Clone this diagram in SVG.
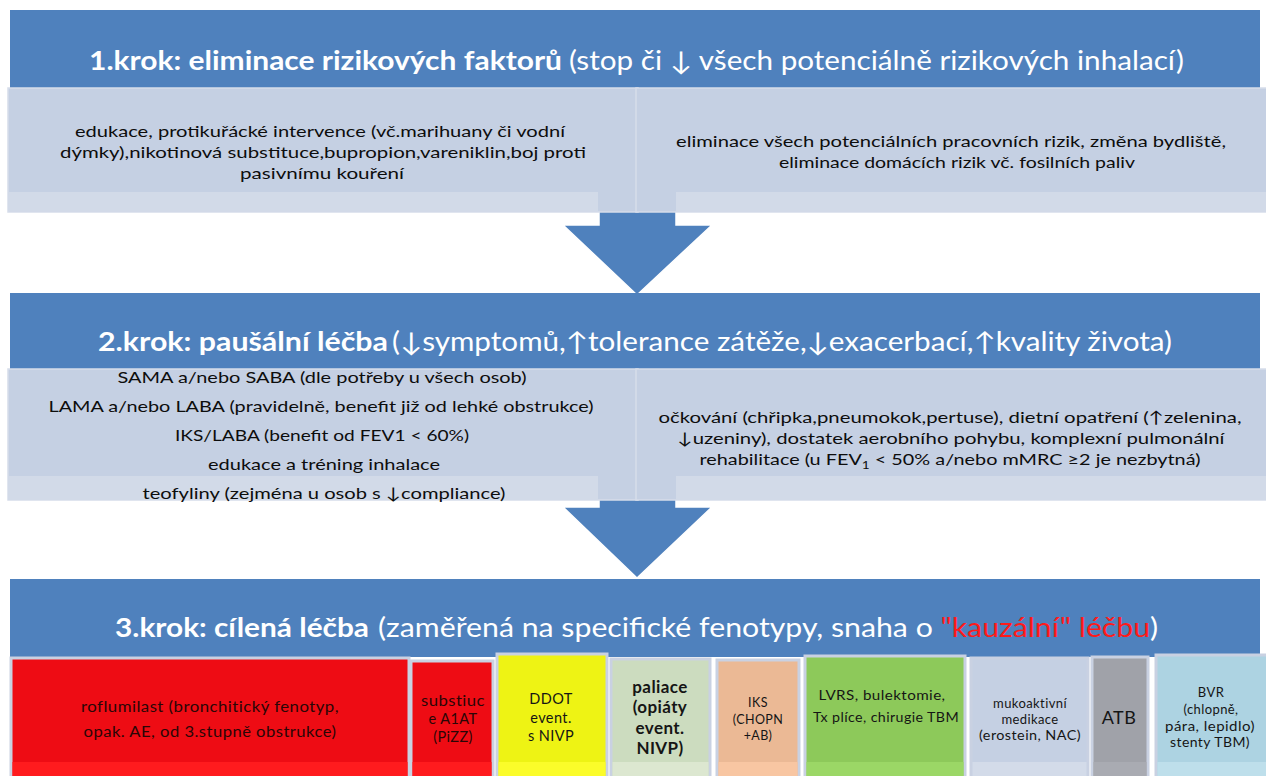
<svg xmlns="http://www.w3.org/2000/svg" width="1266" height="776" viewBox="0 0 1266 776">
<style>
text{font-family:Lato,"Open Sans","DejaVu Sans",sans-serif;}
.hdr{fill:#4F81BD;}
.ttl{fill:#FFFFFF;font-size:26px;}
.b{font-weight:bold;}
.sub{fill:#C5D0E3;stroke:#D6DDEA;stroke-width:1.5;}
.strip{fill:#D2DAE8;}
.body{fill:#0d0d0d;font-size:16px;text-anchor:middle;}
.arrow{fill:#4F81BD;stroke:#FFFFFF;stroke-width:1.5;stroke-linejoin:miter;}
.cell{stroke:#C9D1E2;stroke-width:3;}
.ct{fill:#151515;text-anchor:middle;letter-spacing:0.4px;}
.rt{fill:#2a0606;}
</style>
<rect width="1266" height="776" fill="#FFFFFF"/>

<g id="connectors">
  <polygon class="arrow" points="599,200 676,200 676,225 712,225 637,295 563,225 599,225"/>
  <polygon class="arrow" points="599,490 676,490 676,507 712,507 637,578 563,507 599,507"/>
</g>

<g id="step1-header">
  <rect class="hdr" x="10" y="10" width="1250" height="79"/>
  <text class="ttl b" x="89" y="70" textLength="473" lengthAdjust="spacingAndGlyphs">1.krok: eliminace rizikových faktorů</text>
  <text class="ttl" x="569" y="70" textLength="615" lengthAdjust="spacingAndGlyphs">(stop či ↓ všech potenciálně rizikových inhalací)</text>
</g>

<g id="step1-left">
  <rect class="sub" x="8" y="88" width="630" height="124"/>
  <rect class="strip" x="8" y="192" width="590" height="19"/>
  <text class="body" x="320" y="137" textLength="490" lengthAdjust="spacingAndGlyphs">edukace, protikuřácké intervence (vč.marihuany či vodní</text>
  <text class="body" x="323" y="158" textLength="526" lengthAdjust="spacingAndGlyphs">dýmky),nikotinová substituce,bupropion,vareniklin,boj proti</text>
  <text class="body" x="322" y="179" textLength="164" lengthAdjust="spacingAndGlyphs">pasivnímu kouření</text>
</g>

<g id="step1-right">
  <rect class="sub" x="636" y="88" width="632" height="124"/>
  <rect class="strip" x="676" y="192" width="592" height="19"/>
  <text class="body" x="951" y="147" textLength="550" lengthAdjust="spacingAndGlyphs">eliminace všech potenciálních pracovních rizik, změna bydliště,</text>
  <text class="body" x="957" y="168" textLength="356" lengthAdjust="spacingAndGlyphs">eliminace domácích rizik vč. fosilních paliv</text>
</g>

<g id="step2-header">
  <rect class="hdr" x="10" y="293" width="1250" height="77"/>
  <text class="ttl b" x="98" y="351" textLength="290" lengthAdjust="spacingAndGlyphs">2.krok: paušální  léčba</text>
  <text class="ttl" x="392" y="351" textLength="780" lengthAdjust="spacingAndGlyphs">(↓symptomů,↑tolerance zátěže,↓exacerbací,↑kvality života)</text>
</g>

<g id="step2-left">
  <rect class="sub" x="8" y="369" width="630" height="131"/>
  <rect class="strip" x="8" y="476" width="590" height="24"/>
  <text class="body" x="322" y="383" textLength="409" lengthAdjust="spacingAndGlyphs">SAMA a/nebo SABA (dle potřeby u všech osob)</text>
  <text class="body" x="321" y="412" textLength="545" lengthAdjust="spacingAndGlyphs">LAMA a/nebo LABA (pravidelně, benefit již od lehké obstrukce)</text>
  <text class="body" x="322" y="441" textLength="294" lengthAdjust="spacingAndGlyphs">IKS/LABA (benefit od FEV1 &lt; 60%)</text>
  <text class="body" x="324" y="470" textLength="232" lengthAdjust="spacingAndGlyphs">edukace a tréning inhalace</text>
  <text class="body" x="324" y="499" textLength="363" lengthAdjust="spacingAndGlyphs">teofyliny (zejména u osob s ↓compliance)</text>
</g>

<g id="step2-right">
  <rect class="sub" x="636" y="369" width="632" height="131"/>
  <rect class="strip" x="676" y="476" width="592" height="24"/>
  <text class="body" x="950" y="423" textLength="583" lengthAdjust="spacingAndGlyphs">očkování (chřipka,pneumokok,pertuse), dietní opatření (↑zelenina,</text>
  <text class="body" x="951" y="444" textLength="547" lengthAdjust="spacingAndGlyphs">↓uzeniny), dostatek aerobního pohybu, komplexní pulmonální</text>
  <text class="body" x="950" y="465" textLength="501" lengthAdjust="spacingAndGlyphs">rehabilitace (u FEV<tspan font-size="11" dy="4">1</tspan><tspan dy="-4"> &lt; 50% a/nebo mMRC ≥2 je nezbytná)</tspan></text>
</g>

<g id="step3-header">
  <rect class="hdr" x="10" y="579" width="1250" height="78"/>
  <text class="ttl b" x="115" y="637" textLength="254" lengthAdjust="spacingAndGlyphs">3.krok: cílená léčba</text>
  <text class="ttl" x="378" y="637" textLength="780" lengthAdjust="spacingAndGlyphs">(zaměřená na specifické fenotypy, snaha o <tspan fill="#FF1A1A">"kauzální" léčbu</tspan>)</text>
</g>

<g id="roflumilast">
  <rect class="cell" x="11" y="658" width="398" height="130" fill="#EE0C14"/>
  <rect x="12.5" y="762" width="395" height="16" fill="#FF1B1E"/>
  <text class="ct rt" x="210" y="712" font-size="14.5" textLength="258" lengthAdjust="spacingAndGlyphs">roflumilast (bronchitický fenotyp,</text>
  <text class="ct rt" x="210" y="737" font-size="14.5" textLength="253" lengthAdjust="spacingAndGlyphs">opak. AE, od 3.stupně obstrukce)</text>
</g>

<g id="a1at">
  <rect class="cell" x="411" y="661" width="82" height="130" fill="#EE0C14"/>
  <rect x="412.5" y="762" width="79" height="16" fill="#FF1B1E"/>
  <text class="ct rt" x="453" y="706" font-size="14.5" textLength="64" lengthAdjust="spacingAndGlyphs">substiuc</text>
  <text class="ct rt" x="453" y="724" font-size="14.5">e A1AT</text>
  <text class="ct rt" x="453" y="742" font-size="14.5">(PiZZ)</text>
</g>

<g id="ddot">
  <rect class="cell" x="497" y="654" width="110" height="130" fill="#EEF314"/>
  <rect x="498.5" y="762" width="107" height="16" fill="#FBFC2A"/>
  <text class="ct" x="551" y="704" font-size="14.5">DDOT</text>
  <text class="ct" x="551" y="723" font-size="14.5">event.</text>
  <text class="ct" x="551" y="741" font-size="14.5">s NIVP</text>
</g>

<g id="paliace">
  <rect class="cell" x="611" y="659" width="99" height="130" fill="#CCDCBF"/>
  <rect x="612.5" y="762" width="96" height="16" fill="#DCE7D0"/>
  <text class="ct" x="660" y="693" font-size="17" font-weight="bold" letter-spacing="0.6">paliace</text>
  <text class="ct" x="660" y="713" font-size="17" font-weight="bold" letter-spacing="0.6">(opiáty</text>
  <text class="ct" x="660" y="734" font-size="17" font-weight="bold" letter-spacing="0.6">event.</text>
  <text class="ct" x="660" y="754" font-size="17" font-weight="bold" letter-spacing="0.6">NIVP)</text>
</g>

<g id="iks">
  <rect class="cell" x="717" y="660" width="82" height="130" fill="#EBB995"/>
  <rect x="718.5" y="762" width="79" height="16" fill="#F8C6A2"/>
  <text class="ct" x="758" y="707" font-size="12.5">IKS</text>
  <text class="ct" x="758" y="724" font-size="12.5">(CHOPN</text>
  <text class="ct" x="758" y="740" font-size="12.5">+AB)</text>
</g>

<g id="lvrs">
  <rect class="cell" x="805" y="656" width="160" height="130" fill="#8DC95A"/>
  <rect x="806.5" y="762" width="157" height="16" fill="#9BD766"/>
  <text class="ct" x="882" y="700" font-size="14" textLength="127" lengthAdjust="spacingAndGlyphs">LVRS, bulektomie,</text>
  <text class="ct" x="886" y="722" font-size="14" textLength="146" lengthAdjust="spacingAndGlyphs">Tx plíce, chirugie TBM</text>
</g>

<g id="mukoaktivni">
  <rect class="cell" x="971" y="658" width="117" height="130" fill="#C5D0E3"/>
  <rect x="972.5" y="762" width="114" height="16" fill="#D3DBE9"/>
  <text class="ct" x="1030" y="708" font-size="13">mukoaktivní</text>
  <text class="ct" x="1030" y="724" font-size="13">medikace</text>
  <text class="ct" x="1030" y="740" font-size="13" textLength="102" lengthAdjust="spacingAndGlyphs">(erostein, NAC)</text>
</g>

<g id="atb">
  <rect class="cell" x="1092" y="657" width="56" height="130" fill="#A0A2A9"/>
  <rect x="1093.5" y="762" width="53" height="16" fill="#A9ABB2"/>
  <text class="ct" x="1119" y="724" font-size="18">ATB</text>
</g>

<g id="bvr">
  <rect class="cell" x="1156" y="655" width="112" height="130" fill="#ADD3E2"/>
  <rect x="1157.5" y="762" width="109" height="16" fill="#BEDFEB"/>
  <text class="ct" x="1211" y="697" font-size="13">BVR</text>
  <text class="ct" x="1211" y="714" font-size="13">(chlopně,</text>
  <text class="ct" x="1210" y="731" font-size="13" textLength="90" lengthAdjust="spacingAndGlyphs">pára,  lepidlo)</text>
  <text class="ct" x="1210" y="747" font-size="13" textLength="80" lengthAdjust="spacingAndGlyphs">stenty TBM)</text>
</g>
</svg>
